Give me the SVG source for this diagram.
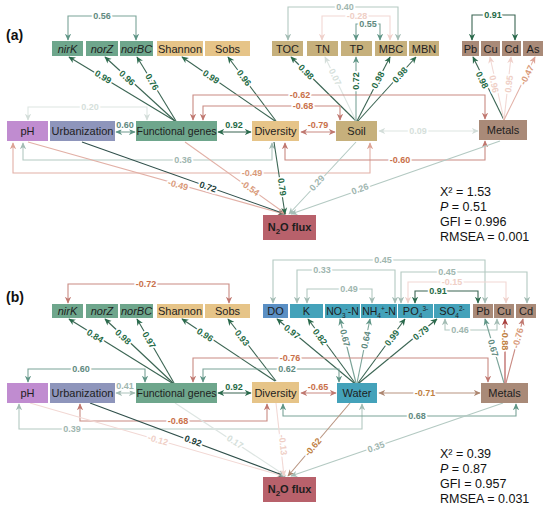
<svg xmlns="http://www.w3.org/2000/svg" width="550" height="509" viewBox="0 0 550 509">
<style>
.n text{font-family:"Liberation Sans",Arial,sans-serif;font-size:11px;fill:#1e1e1e;text-anchor:middle}
.it{font-style:italic}
.c path{fill:none;stroke-width:1.1}
.lb{font-family:"Liberation Sans",Arial,sans-serif;font-size:9px;font-weight:bold;text-anchor:middle;dominant-baseline:central;stroke:#fff;stroke-width:3.5;paint-order:stroke;stroke-linejoin:round}
.st{font-family:"Liberation Sans",Arial,sans-serif;font-size:12.5px;fill:#111}
.pl{font-family:"Liberation Sans",Arial,sans-serif;font-size:14px;font-weight:bold;fill:#111}
.dg{stroke:#3b6553}.tdg{fill:#1f6b46}
.dk{stroke:#2f4f4a}.tdk{fill:#23413a}
.mg{stroke:#7aa398}.tmg{fill:#5f8a80}
.lg{stroke:#b3c9c2}.tlg{fill:#a0b6af}
.fg{stroke:#dde5e2}.tfg{fill:#d6dfdb}
.mr{stroke:#c98a82}.tmr{fill:#c9704a}
.lr{stroke:#e2b0a6}.tlr{fill:#d99a7a}
.fr{stroke:#f2d8d4}.tfr{fill:#efcfc6}
.br{stroke:#b89480}.tbr{fill:#c0803f}
.rd{stroke:#b04a48}
.gene{fill:#6ea68c}.dv{fill:#e6c488}.so{fill:#c6b07c}.me{fill:#a98a78}.ph{fill:#c08cd0}.ur{fill:#8e95bb}.no{fill:#b8616b}.wa{fill:#44a2ba}.do{fill:#5a8fc4}
</style>
<defs>
<marker id="m-dg" viewBox="0 0 10 10" refX="9" refY="5" markerWidth="7" markerHeight="7" markerUnits="userSpaceOnUse" orient="auto-start-reverse"><path d="M0,0.5 L10,5 L0,9.5 L3,5z" fill="#2a6a4c"/></marker>
<marker id="m-dk" viewBox="0 0 10 10" refX="9" refY="5" markerWidth="7" markerHeight="7" markerUnits="userSpaceOnUse" orient="auto-start-reverse"><path d="M0,0.5 L10,5 L0,9.5 L3,5z" fill="#2f4f4a"/></marker>
<marker id="m-mg" viewBox="0 0 10 10" refX="9" refY="5" markerWidth="7" markerHeight="7" markerUnits="userSpaceOnUse" orient="auto-start-reverse"><path d="M0,0.5 L10,5 L0,9.5 L3,5z" fill="#5f9586"/></marker>
<marker id="m-lg" viewBox="0 0 10 10" refX="9" refY="5" markerWidth="7" markerHeight="7" markerUnits="userSpaceOnUse" orient="auto-start-reverse"><path d="M0,0.5 L10,5 L0,9.5 L3,5z" fill="#a3bcb4"/></marker>
<marker id="m-fg" viewBox="0 0 10 10" refX="9" refY="5" markerWidth="7" markerHeight="7" markerUnits="userSpaceOnUse" orient="auto-start-reverse"><path d="M0,0.5 L10,5 L0,9.5 L3,5z" fill="#d3ddd9"/></marker>
<marker id="m-mr" viewBox="0 0 10 10" refX="9" refY="5" markerWidth="7" markerHeight="7" markerUnits="userSpaceOnUse" orient="auto-start-reverse"><path d="M0,0.5 L10,5 L0,9.5 L3,5z" fill="#c07870"/></marker>
<marker id="m-lr" viewBox="0 0 10 10" refX="9" refY="5" markerWidth="7" markerHeight="7" markerUnits="userSpaceOnUse" orient="auto-start-reverse"><path d="M0,0.5 L10,5 L0,9.5 L3,5z" fill="#dca294"/></marker>
<marker id="m-fr" viewBox="0 0 10 10" refX="9" refY="5" markerWidth="7" markerHeight="7" markerUnits="userSpaceOnUse" orient="auto-start-reverse"><path d="M0,0.5 L10,5 L0,9.5 L3,5z" fill="#efd0ca"/></marker>
<marker id="m-br" viewBox="0 0 10 10" refX="9" refY="5" markerWidth="7" markerHeight="7" markerUnits="userSpaceOnUse" orient="auto-start-reverse"><path d="M0,0.5 L10,5 L0,9.5 L3,5z" fill="#ad8670"/></marker>
<marker id="m-rd" viewBox="0 0 10 10" refX="9" refY="5" markerWidth="7" markerHeight="7" markerUnits="userSpaceOnUse" orient="auto-start-reverse"><path d="M0,0.5 L10,5 L0,9.5 L3,5z" fill="#a8403e"/></marker>
</defs>
<rect width="550" height="509" fill="#fff"/>

<g id="connectors" class="c">
<!-- panel a top -->
<path class="mg" d="M68,40 V16 H136 V40" marker-start="url(#m-mg)" marker-end="url(#m-mg)"/>
<path class="dg" d="M175,121 L69,57" marker-end="url(#m-dg)"/>
<path class="dg" d="M175,121 L105,57" marker-end="url(#m-dg)"/>
<path class="dg" d="M176,121 L137,57" marker-end="url(#m-dg)"/>
<path class="dg" d="M275,121 L182,57" marker-end="url(#m-dg)"/>
<path class="dg" d="M276,121 L228,57" marker-end="url(#m-dg)"/>
<path class="dg" d="M356,121 L291,57" marker-end="url(#m-dg)"/>
<path class="fg" d="M356,121 L325,57" marker-end="url(#m-fg)"/>
<path class="mg" d="M356,121 L356,57" marker-end="url(#m-mg)"/>
<path class="dg" d="M357,121 L390,57" marker-end="url(#m-dg)"/>
<path class="dg" d="M358,121 L416,57" marker-end="url(#m-dg)"/>
<path class="lg" d="M288,40 V7 H398 V40" marker-start="url(#m-lg)" marker-end="url(#m-lg)"/>
<path class="fr" d="M322,40 V16 H390 V40" marker-start="url(#m-fr)" marker-end="url(#m-fr)"/>
<path class="mg" d="M356,40 V24 H380 V40" marker-start="url(#m-mg)" marker-end="url(#m-mg)"/>
<path class="dg" d="M472,40 V15 H515 V40" marker-start="url(#m-dg)" marker-end="url(#m-dg)"/>
<path class="dg" d="M504,120 L473,57" marker-end="url(#m-dg)"/>
<path class="fr" d="M504,120 L490,57" marker-end="url(#m-fr)"/>
<path class="fr" d="M504,120 L511,57" marker-end="url(#m-fr)"/>
<path class="lr" d="M504,120 L535,57" marker-end="url(#m-lr)"/>
<!-- panel a middle -->
<path class="fg" d="M28,120 V107 H147 V120" marker-start="url(#m-fg)" marker-end="url(#m-fg)"/>
<path class="mr" d="M193,120 V95 H485 V119" marker-start="url(#m-mr)" marker-end="url(#m-mr)"/>
<path class="mr" d="M203,120 V106 H340 V120" marker-start="url(#m-mr)" marker-end="url(#m-mr)"/>
<path class="mg" d="M116,132 H135" marker-start="url(#m-mg)" marker-end="url(#m-mg)"/>
<path class="dg" d="M218,132 H251" marker-start="url(#m-dg)" marker-end="url(#m-dg)"/>
<path class="mr" d="M301,132 H335" marker-start="url(#m-mr)" marker-end="url(#m-mr)"/>
<path class="fg" d="M379,131 H478" marker-start="url(#m-fg)" marker-end="url(#m-fg)"/>
<path class="lg" d="M23,143 V160 H272 V143" marker-start="url(#m-lg)" marker-end="url(#m-lg)"/>
<path class="lr" d="M13,143 V173 H370 V143" marker-start="url(#m-lr)" marker-end="url(#m-lr)"/>
<path class="mr" d="M285,143 V160 H485 V141" marker-start="url(#m-mr)" marker-end="url(#m-mr)"/>
<!-- panel a to N2O -->
<path class="lr" d="M28,142 L284,214" marker-end="url(#m-lr)"/>
<path class="dk" d="M82,142 L285,214" marker-end="url(#m-dk)"/>
<path class="lr" d="M185,142 L286,214" marker-end="url(#m-lr)"/>
<path class="dg" d="M274,142 L285,214" marker-end="url(#m-dg)"/>
<path class="lg" d="M356,142 L289,214" marker-end="url(#m-lg)"/>
<path class="lg" d="M500,141 L291,214" marker-end="url(#m-lg)"/>

<!-- panel b top -->
<path class="mr" d="M68,303 V284 H229 V303" marker-start="url(#m-mr)" marker-end="url(#m-mr)"/>
<path class="dg" d="M172,383 L69,319" marker-end="url(#m-dg)"/>
<path class="dg" d="M173,383 L105,319" marker-end="url(#m-dg)"/>
<path class="dg" d="M174,383 L137,319" marker-end="url(#m-dg)"/>
<path class="dg" d="M275,381 L182,319" marker-end="url(#m-dg)"/>
<path class="dg" d="M276,381 L228,319" marker-end="url(#m-dg)"/>
<path class="dg" d="M354,383 L277,319" marker-end="url(#m-dg)"/>
<path class="dg" d="M355,383 L308,319" marker-end="url(#m-dg)"/>
<path class="mg" d="M356,383 L340,319" marker-end="url(#m-mg)"/>
<path class="mg" d="M357,383 L370,319" marker-end="url(#m-mg)"/>
<path class="dg" d="M358,383 L405,319" marker-end="url(#m-dg)"/>
<path class="dg" d="M359,383 L437,319" marker-end="url(#m-dg)"/>
<path class="lg" d="M273,303 V260 H485 V303" marker-start="url(#m-lg)" marker-end="url(#m-lg)"/>
<path class="lg" d="M297,303 V270 H395 V303" marker-start="url(#m-lg)" marker-end="url(#m-lg)"/>
<path class="lg" d="M401,303 V272 H527 V303" marker-start="url(#m-lg)" marker-end="url(#m-lg)"/>
<path class="fr" d="M408,303 V282 H506 V303" marker-start="url(#m-fr)" marker-end="url(#m-fr)"/>
<path class="lg" d="M307,303 V289 H372 V303" marker-start="url(#m-lg)" marker-end="url(#m-lg)"/>
<path class="dg" d="M415,303 V291 H478 V303" marker-start="url(#m-dg)" marker-end="url(#m-dg)"/>
<path class="lg" d="M445,319 V330 H497 V319" marker-start="url(#m-lg)" marker-end="url(#m-lg)"/>
<path class="mg" d="M504,383 L485,319" marker-end="url(#m-mg)"/>
<path class="rd" d="M505,383 L505,319" marker-end="url(#m-rd)"/>
<path class="mr" d="M506,383 L523,319" marker-end="url(#m-mr)"/>
<!-- panel b middle -->
<path class="mg" d="M28,382 V369 H145 V382" marker-start="url(#m-mg)" marker-end="url(#m-mg)"/>
<path class="lg" d="M116,393 H135" marker-start="url(#m-lg)" marker-end="url(#m-lg)"/>
<path class="dg" d="M218,393 H251" marker-start="url(#m-dg)" marker-end="url(#m-dg)"/>
<path class="mr" d="M301,393 H336" marker-start="url(#m-mr)" marker-end="url(#m-mr)"/>
<path class="br" d="M379,393 H480" marker-start="url(#m-br)" marker-end="url(#m-br)"/>
<path class="mr" d="M193,382 V358 H488 V382" marker-start="url(#m-mr)" marker-end="url(#m-mr)"/>
<path class="mg" d="M203,382 V369 H339 V382" marker-start="url(#m-mg)" marker-end="url(#m-mg)"/>
<path class="mr" d="M80,404 V421 H267 V404" marker-start="url(#m-mr)" marker-end="url(#m-mr)"/>
<path class="lg" d="M19,404 V429 H362 V404" marker-start="url(#m-lg)" marker-end="url(#m-lg)"/>
<path class="mg" d="M283,404 V416 H516 V404" marker-start="url(#m-mg)" marker-end="url(#m-mg)"/>
<!-- panel b to N2O -->
<path class="fr" d="M30,403 L283,476" marker-end="url(#m-fr)"/>
<path class="dk" d="M90,403 L285,476" marker-end="url(#m-dk)"/>
<path class="fg" d="M175,403 L286,476" marker-end="url(#m-fg)"/>
<path class="fr" d="M276,403 L284,476" marker-end="url(#m-fr)"/>
<path class="br" d="M350,403 L288,476" marker-end="url(#m-br)"/>
<path class="lg" d="M503,403 L291,476" marker-end="url(#m-lg)"/>
</g>

<g id="labels">
<!-- panel a -->
<text class="lb tmg" x="102" y="16">0.56</text>
<text class="lb tdg" transform="translate(103,77) rotate(31)">0.99</text>
<text class="lb tdg" transform="translate(127,78) rotate(42)">0.96</text>
<text class="lb tdg" transform="translate(152,82) rotate(59)">0.76</text>
<text class="lb tdg" transform="translate(211,77) rotate(34)">0.99</text>
<text class="lb tdg" transform="translate(244,78) rotate(53)">0.96</text>
<text class="lb tdg" transform="translate(306,72) rotate(45)">0.98</text>
<text class="lb tfg" transform="translate(335,77) rotate(64)">0.07</text>
<text class="lb tdg" transform="translate(356,81) rotate(-90)">0.72</text>
<text class="lb tdg" transform="translate(378,80) rotate(-62)">0.98</text>
<text class="lb tdg" transform="translate(400,75) rotate(-47)">0.98</text>
<text class="lb tlg" x="345" y="7">0.40</text>
<text class="lb tfr" x="357" y="16">-0.28</text>
<text class="lb tmg" x="368" y="24">0.55</text>
<text class="lb tdg" x="493" y="15">0.91</text>
<text class="lb tdg" transform="translate(482,80) rotate(64)">0.98</text>
<text class="lb tfr" transform="translate(494,84) rotate(78)">0.96</text>
<text class="lb tfr" transform="translate(509,84) rotate(-83)">0.95</text>
<text class="lb tlr" transform="translate(527,75) rotate(-63)">-0.47</text>
<text class="lb tfg" x="90" y="107">0.20</text>
<text class="lb tmr" x="300" y="95">-0.62</text>
<text class="lb tmr" x="303" y="106">-0.68</text>
<text class="lb tmg" x="125" y="125">0.60</text>
<text class="lb tdg" x="234" y="125">0.92</text>
<text class="lb tmr" x="318" y="125">-0.79</text>
<text class="lb tfg" x="418" y="131">0.09</text>
<text class="lb tlg" x="183" y="160">0.36</text>
<text class="lb tlr" x="252" y="173">-0.49</text>
<text class="lb tmr" x="400" y="160">-0.60</text>
<text class="lb tlr" transform="translate(178,185) rotate(15.7)">-0.49</text>
<text class="lb tdk" transform="translate(208,187) rotate(19.5)">0.72</text>
<text class="lb tlr" transform="translate(250,188) rotate(35.5)">-0.54</text>
<text class="lb tdg" transform="translate(282,187) rotate(81)">0.79</text>
<text class="lb tlg" transform="translate(317,183) rotate(-47)">0.29</text>
<text class="lb tlg" transform="translate(360,189) rotate(-19.7)">0.26</text>
<!-- panel b -->
<text class="lb tmr" x="146" y="284">-0.72</text>
<text class="lb tdg" transform="translate(95,336) rotate(31.5)">0.84</text>
<text class="lb tdg" transform="translate(123,337) rotate(43)">0.98</text>
<text class="lb tdg" transform="translate(149,340) rotate(60)">0.97</text>
<text class="lb tdg" transform="translate(205,335) rotate(33)">0.96</text>
<text class="lb tdg" transform="translate(242,338) rotate(52)">0.93</text>
<text class="lb tdg" transform="translate(292,332) rotate(39)">0.97</text>
<text class="lb tdg" transform="translate(320,337) rotate(53)">0.82</text>
<text class="lb tmg" transform="translate(345,338) rotate(76)">0.67</text>
<text class="lb tmg" transform="translate(366,340) rotate(-78)">0.64</text>
<text class="lb tdg" transform="translate(392,338) rotate(-53)">0.99</text>
<text class="lb tdg" transform="translate(421,333) rotate(-39)">0.79</text>
<text class="lb tlg" x="383" y="260">0.45</text>
<text class="lb tlg" x="322" y="270">0.33</text>
<text class="lb tlg" x="447" y="272">0.45</text>
<text class="lb tfr" x="452" y="282">-0.15</text>
<text class="lb tlg" x="349" y="289">0.49</text>
<text class="lb tdg" x="438" y="291">0.91</text>
<text class="lb tlg" x="460" y="330">0.46</text>
<text class="lb tmg" transform="translate(493,348) rotate(73.5)">0.67</text>
<text class="lb tbr" transform="translate(505,340) rotate(90)">-0.88</text>
<text class="lb tlr" transform="translate(518,338) rotate(-75)">-0.76</text>
<text class="lb tmg" x="81" y="369">0.60</text>
<text class="lb tlg" x="125" y="386">0.41</text>
<text class="lb tdg" x="234" y="387">0.92</text>
<text class="lb tmr" x="318" y="387">-0.65</text>
<text class="lb tbr" x="425" y="393">-0.71</text>
<text class="lb tmr" x="290" y="358">-0.76</text>
<text class="lb tmg" x="287" y="369">0.62</text>
<text class="lb tmr" x="178" y="421">-0.68</text>
<text class="lb tlg" x="72" y="429">0.39</text>
<text class="lb tmg" x="417" y="416">0.68</text>
<text class="lb tfr" transform="translate(158,440) rotate(16)">-0.12</text>
<text class="lb tdk" transform="translate(193,441) rotate(20.5)">0.92</text>
<text class="lb tfg" transform="translate(235,442) rotate(33)">0.17</text>
<text class="lb tfr" transform="translate(283,445) rotate(84)">-0.13</text>
<text class="lb tbr" transform="translate(313,447) rotate(-50)">-0.62</text>
<text class="lb tlg" transform="translate(376,447) rotate(-19)">0.35</text>
</g>

<!-- panel a nodes -->
<g id="a-nirK" class="n"><rect class="gene" x="52" y="41" width="31" height="15"/><text class="it" x="67.5" y="52.5">nirK</text></g>
<g id="a-norZ" class="n"><rect class="gene" x="86" y="41" width="32" height="15"/><text class="it" x="102" y="52.5">norZ</text></g>
<g id="a-norBC" class="n"><rect class="gene" x="120" y="41" width="33" height="15"/><text class="it" x="136.5" y="52.5">norBC</text></g>
<g id="a-shannon" class="n"><rect class="dv" x="157" y="41" width="46" height="15"/><text x="180" y="52.5">Shannon</text></g>
<g id="a-sobs" class="n"><rect class="dv" x="205" y="41" width="45" height="15"/><text x="227.5" y="52.5">Sobs</text></g>
<g id="a-toc" class="n"><rect class="so" x="272" y="41" width="31" height="15"/><text x="287.5" y="52.5">TOC</text></g>
<g id="a-tn" class="n"><rect class="so" x="307" y="41" width="31" height="15"/><text x="322.5" y="52.5">TN</text></g>
<g id="a-tp" class="n"><rect class="so" x="341" y="41" width="31" height="15"/><text x="356.5" y="52.5">TP</text></g>
<g id="a-mbc" class="n"><rect class="so" x="375" y="41" width="32" height="15"/><text x="391" y="52.5">MBC</text></g>
<g id="a-mbn" class="n"><rect class="so" x="409" y="41" width="30" height="15"/><text x="424" y="52.5">MBN</text></g>
<g id="a-pb" class="n"><rect class="me" x="462" y="41" width="17" height="15"/><text x="470.5" y="52.5">Pb</text></g>
<g id="a-cu" class="n"><rect class="me" x="481" y="41" width="19" height="15"/><text x="490.5" y="52.5">Cu</text></g>
<g id="a-cd" class="n"><rect class="me" x="502" y="41" width="19" height="15"/><text x="511.5" y="52.5">Cd</text></g>
<g id="a-as" class="n"><rect class="me" x="523" y="41" width="20" height="15"/><text x="533" y="52.5">As</text></g>
<g id="a-ph" class="n"><rect class="ph" x="7" y="121" width="41" height="20"/><text x="27.5" y="135">pH</text></g>
<g id="a-urb" class="n"><rect class="ur" x="50" y="121" width="65" height="20"/><text x="82.5" y="135">Urbanization</text></g>
<g id="a-fg" class="n"><rect class="gene" x="136" y="121" width="81" height="20"/><text x="176.5" y="135" style="font-size:10.5px">Functional genes</text></g>
<g id="a-div" class="n"><rect class="dv" x="252" y="121" width="47" height="20"/><text x="275.5" y="135">Diversity</text></g>
<g id="a-soil" class="n"><rect class="so" x="336" y="121" width="41" height="20"/><text x="356.5" y="135">Soil</text></g>
<g id="a-metals" class="n"><rect class="me" x="479" y="120" width="48" height="20"/><text x="503" y="134">Metals</text></g>
<g id="a-n2o" class="n"><rect class="no" x="263" y="215" width="53" height="25"/><text x="289.5" y="231" style="font-weight:bold">N<tspan font-size="8" dy="3">2</tspan><tspan dy="-3">O flux</tspan></text></g>

<!-- panel b nodes -->
<g id="b-nirK" class="n"><rect class="gene" x="52" y="304" width="31" height="14"/><text class="it" x="67.5" y="315">nirK</text></g>
<g id="b-norZ" class="n"><rect class="gene" x="86" y="304" width="32" height="14"/><text class="it" x="102" y="315">norZ</text></g>
<g id="b-norBC" class="n"><rect class="gene" x="120" y="304" width="33" height="14"/><text class="it" x="136.5" y="315">norBC</text></g>
<g id="b-shannon" class="n"><rect class="dv" x="157" y="304" width="46" height="14"/><text x="180" y="315">Shannon</text></g>
<g id="b-sobs" class="n"><rect class="dv" x="205" y="304" width="45" height="14"/><text x="227.5" y="315">Sobs</text></g>
<g id="b-do" class="n"><rect class="do" x="263" y="304" width="25" height="14"/><text x="275.5" y="315">DO</text></g>
<g id="b-k" class="n"><rect class="wa" x="290" y="304" width="33" height="14"/><text x="306.5" y="315">K</text></g>
<g id="b-no3" class="n"><rect class="wa" x="325" y="304" width="35" height="14"/><text x="342.5" y="315" style="font-size:10.5px">NO<tspan font-size="6.5" dy="2.5">3</tspan><tspan font-size="6.5" dy="-6.5">-</tspan><tspan dy="4">-N</tspan></text></g>
<g id="b-nh4" class="n"><rect class="wa" x="361" y="304" width="36" height="14"/><text x="379" y="315" style="font-size:10.5px">NH<tspan font-size="6.5" dy="2.5">4</tspan><tspan font-size="6.5" dy="-6.5">+</tspan><tspan dy="4">-N</tspan></text></g>
<g id="b-po4" class="n"><rect class="wa" x="398" y="304" width="35" height="14"/><text x="415.5" y="315">PO<tspan font-size="6.5" dy="2.5">4</tspan><tspan font-size="6.5" dy="-6.5">3-</tspan></text></g>
<g id="b-so4" class="n"><rect class="wa" x="434" y="304" width="36" height="14"/><text x="452" y="315">SO<tspan font-size="6.5" dy="2.5">4</tspan><tspan font-size="6.5" dy="-6.5">2-</tspan></text></g>
<g id="b-pb" class="n"><rect class="me" x="473" y="304" width="20" height="14"/><text x="483" y="315">Pb</text></g>
<g id="b-cu" class="n"><rect class="me" x="494" y="304" width="20" height="14"/><text x="504" y="315">Cu</text></g>
<g id="b-cd" class="n"><rect class="me" x="516" y="304" width="20" height="14"/><text x="526" y="315">Cd</text></g>
<g id="b-ph" class="n"><rect class="ph" x="7" y="383" width="41" height="20"/><text x="27.5" y="397">pH</text></g>
<g id="b-urb" class="n"><rect class="ur" x="50" y="383" width="65" height="20"/><text x="82.5" y="397">Urbanization</text></g>
<g id="b-fg" class="n"><rect class="gene" x="136" y="383" width="81" height="20"/><text x="176.5" y="397" style="font-size:10.5px">Functional genes</text></g>
<g id="b-div" class="n"><rect class="dv" x="252" y="382" width="47" height="21"/><text x="275.5" y="396.5">Diversity</text></g>
<g id="b-water" class="n"><rect class="wa" x="337" y="383" width="40" height="20"/><text x="357" y="397">Water</text></g>
<g id="b-metals" class="n"><rect class="me" x="481" y="383" width="47" height="20"/><text x="504.5" y="397">Metals</text></g>
<g id="b-n2o" class="n"><rect class="no" x="263" y="477" width="53" height="25"/><text x="289.5" y="493" style="font-weight:bold">N<tspan font-size="8" dy="3">2</tspan><tspan dy="-3">O flux</tspan></text></g>

<g id="panel-labels">
<text class="pl" x="6" y="40">(a)</text>
<text class="pl" x="6" y="302">(b)</text>
</g>
<g id="stats">
<text class="st" x="440" y="196">X² = 1.53</text>
<text class="st" x="440" y="211"><tspan font-style="italic">P</tspan> = 0.51</text>
<text class="st" x="440" y="226">GFI = 0.996</text>
<text class="st" x="440" y="241">RMSEA = 0.001</text>
<text class="st" x="440" y="458">X² = 0.39</text>
<text class="st" x="440" y="473"><tspan font-style="italic">P</tspan> = 0.87</text>
<text class="st" x="440" y="488">GFI = 0.957</text>
<text class="st" x="440" y="503">RMSEA = 0.031</text>
</g>
</svg>
